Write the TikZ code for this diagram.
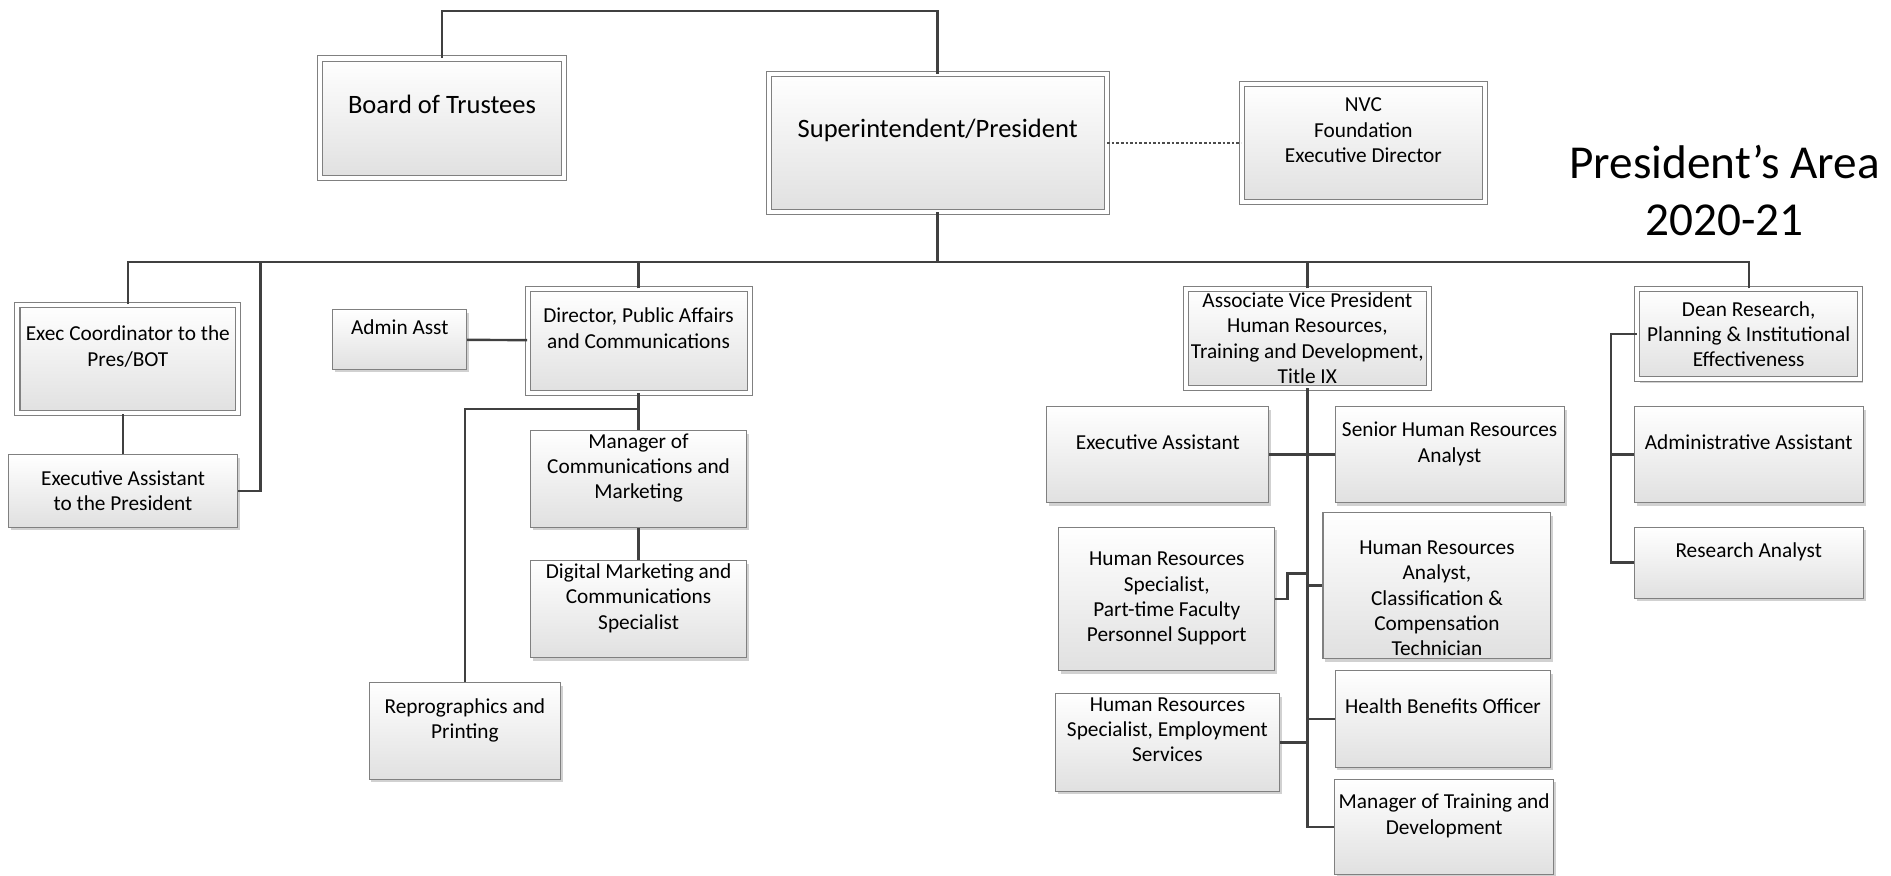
\documentclass[tikz,border=0pt]{standalone}
\usepackage{fontspec}
\setmainfont{Carlito}
\usetikzlibrary{shadows}
\tikzset{>=latex}
\tikzset{
  orgbox/.style={draw=black!50, line width=0.5pt, top color=white, bottom color=black!12,
    drop shadow={shadow xshift=1.2pt, shadow yshift=-1.6pt, fill=black!40, opacity=.45},
    align=center, inner xsep=2pt, inner ysep=0pt, font=\fontsize{10.6pt}{12.6pt}\selectfont},
  dblbox/.style={orgbox, double=white, double distance=2pt},
  wh/.style 2 args={minimum width=#1*0.6pt, minimum height=#2*0.6pt},
  liftup/.style={text depth=#1}, liftup/.default=12.5pt,
  link/.style={draw=black!75, line width=1.2pt},
}

\begin{document}
\begin{tikzpicture}[x=0.6pt,y=-0.6pt]
\useasboundingbox (0,0) rectangle (1568,726);
% top level
\node[dblbox, wh={202}{99}, liftup=14pt, font=\fontsize{13.2pt}{15.8pt}\selectfont] (bot) at (366.5,98) {Board of Trustees};
\node[dblbox, wh={280}{114}, liftup=15pt, font=\fontsize{13.2pt}{15.8pt}\selectfont] (sup) at (777.5,118.5) {Superintendent/President};
\node[dblbox, wh={202}{98}, liftup] (nvc) at (1130.5,118.5) {NVC\\Foundation\\Executive Director};
\node[align=center, font=\fontsize{23.5pt}{28.8pt}\selectfont] (title) at (1430,158) {President’s Area\\2020-21};
% left side
\node[dblbox, wh={183}{90}, liftup] (ecord) at (106,297.5) {Exec Coordinator to the\\Pres/BOT};
\node[orgbox, wh={190}{60}] (eapres) at (102,407) {Executive Assistant\\to the President};
\node[orgbox, wh={111}{49}, liftup] (aasst) at (331.5,281.5) {Admin Asst};
\node[dblbox, wh={184}{86}, liftup] (dpac) at (529.5,282.5) {Director, Public Affairs\\and Communications};
\node[orgbox, wh={179}{80}, liftup] (mcm) at (529.5,397) {Manager of\\Communications and\\Marketing};
\node[orgbox, wh={179}{80}, liftup] (dmcs) at (529.5,505) {Digital Marketing and\\Communications\\Specialist};
\node[orgbox, wh={159}{80}, liftup] (rp) at (385.5,606) {Reprographics and\\Printing};
% human resources
\node[dblbox, wh={201}{82}] (avp) at (1084,280.5) {Associate Vice President\\Human Resources,\\Training and Development,\\Title IX};
\node[orgbox, wh={184}{80}, liftup] (ea) at (960,377) {Executive Assistant};
\node[orgbox, wh={190}{80}, liftup] (shra) at (1202,377) {Senior Human Resources\\Analyst};
\node[orgbox, wh={179}{119}] (hrspt) at (967.5,496.5) {Human Resources\\Specialist,\\Part-time Faculty\\Personnel Support};
\node[orgbox, wh={189}{121}, text height=70pt] (hrac) at (1191.5,485.5) {Human Resources\\Analyst,\\Classification \&\\Compensation\\Technician};
\node[orgbox, wh={179}{80}, liftup] (hbo) at (1196.5,596) {Health Benefits Officer};
\node[orgbox, wh={186}{81}, liftup] (hrse) at (968,615.5) {Human Resources\\Specialist, Employment\\Services};
\node[orgbox, wh={181}{79}, liftup] (mtd) at (1197.5,685.5) {Manager of Training and\\Development};
% research
\node[dblbox, wh={185}{75}] (dean) at (1450,277) {Dean Research,\\Planning \& Institutional\\Effectiveness};
\node[orgbox, wh={190}{80}, liftup] (adma) at (1450,377) {Administrative Assistant};
\node[orgbox, wh={190}{59}, liftup] (ra) at (1450,466.5) {Research Analyst};

\coordinate (bus) at (777.5,217);
\coordinate (ebend) at (216,217);
\draw[link] (bot.north) -- ++(0,-39) -| (sup.north);
\draw[densely dotted, line width=1.3pt, black!70] (sup) -- (nvc);
\draw[link] (sup.south) -- (bus);
\draw[link] (ecord.north) |- (bus);
\draw[link] (dean.north) |- (bus);
\draw[link] (dpac.north) -- (dpac.north |- bus);
\draw[link] (avp.north) -- (avp.north |- bus);
\draw[link] (eapres.east) -| (ebend);
\draw[link] (eapres.north) -- (eapres.north |- ecord.south);
\draw[link] (aasst) -- (dpac);
\draw[link] (dpac) -- (mcm);
\draw[link] (mcm) -- (dmcs);
\draw[link] (dpac.south) -- ++(0,13) -| (rp.north);
\draw[link] (avp.south) |- (mtd.west);
\draw[link] (ea) -- (shra);
\draw[link] (hrspt.east) -- ++(10,0) -- ++(0,-21) -- ++(17,0);
\draw[link] (hrac.west) -- (hrac.west -| avp.south);
\draw[link] (hbo.west) -- (hbo.west -| avp.south);
\draw[link] (hrse.east) -- (hrse.east -| avp.south);
\draw[link] (dean.west) -- ++(-21.5,0) |- (ra.west);
\draw[link] (adma.west) -- ++(-19,0);
\end{tikzpicture}
\end{document}
